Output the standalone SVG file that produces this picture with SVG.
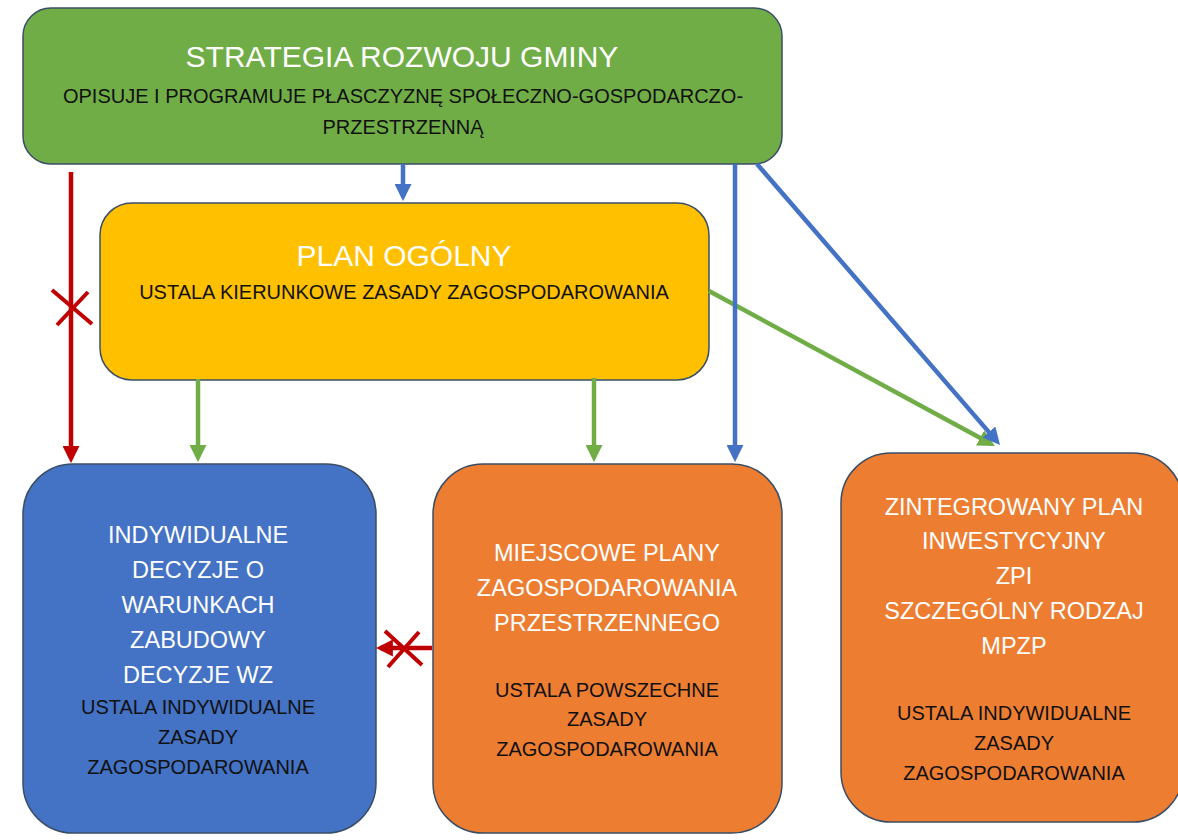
<svg xmlns="http://www.w3.org/2000/svg" width="1178" height="840" viewBox="0 0 1178 840">
<style>
.box{stroke:#3A4D66;stroke-width:1.5}
.t{font-family:"Liberation Sans",Arial,sans-serif;text-anchor:middle}
.w{fill:#FFFFFF}
.k{fill:#111111}
.c{fill:none;stroke-width:4.5}
.g{stroke:#70AD47}
.r{stroke:#C00000}
.b{stroke:#4472C4}
.x{stroke:#C00000;stroke-width:4;fill:none}
</style>
<defs>
<marker id="ag" viewBox="0 0 10 10" refX="7" refY="5" markerWidth="17" markerHeight="17" markerUnits="userSpaceOnUse" orient="auto"><path d="M0,0 L10,5 L0,10 Z" fill="#70AD47"/></marker>
<marker id="ar" viewBox="0 0 10 10" refX="7" refY="5" markerWidth="17" markerHeight="17" markerUnits="userSpaceOnUse" orient="auto"><path d="M0,0 L10,5 L0,10 Z" fill="#C00000"/></marker>
<marker id="ab" viewBox="0 0 10 10" refX="7" refY="5" markerWidth="17" markerHeight="17" markerUnits="userSpaceOnUse" orient="auto"><path d="M0,0 L10,5 L0,10 Z" fill="#4472C4"/></marker>
</defs>
<rect width="1178" height="840" fill="#FFFFFF"/>

<g id="strategia">
<rect class="box" x="23" y="8" width="759" height="156" rx="28" fill="#70AD47"/>
<text class="t w" x="402" y="67" font-size="30">STRATEGIA ROZWOJU GMINY</text>
<text class="t k" x="403" y="103" font-size="20">OPISUJE I PROGRAMUJE PŁASCZYZNĘ SPOŁECZNO-GOSPODARCZO-</text>
<text class="t k" x="403" y="134" font-size="20">PRZESTRZENNĄ</text>
</g>

<g id="plan-ogolny">
<rect class="box" x="100" y="203" width="609" height="177" rx="32" fill="#FFC000"/>
<text class="t w" x="404" y="266" font-size="30">PLAN OGÓLNY</text>
<text class="t k" x="404" y="299" font-size="20">USTALA KIERUNKOWE ZASADY ZAGOSPODAROWANIA</text>
</g>

<g id="decyzje-wz">
<rect class="box" x="23" y="464" width="353" height="369" rx="50" fill="#4472C4"/>
<g class="t w" font-size="23.5">
<text x="198" y="543">INDYWIDUALNE</text>
<text x="198" y="578">DECYZJE O</text>
<text x="198" y="613">WARUNKACH</text>
<text x="198" y="648">ZABUDOWY</text>
<text x="198" y="683">DECYZJE WZ</text>
</g>
<g class="t k" font-size="20">
<text x="198" y="714">USTALA INDYWIDUALNE</text>
<text x="198" y="744">ZASADY</text>
<text x="198" y="774">ZAGOSPODAROWANIA</text>
</g>
</g>

<g id="mpzp">
<rect class="box" x="433" y="464" width="349" height="369" rx="50" fill="#ED7D31"/>
<g class="t w" font-size="23.5">
<text x="607" y="561">MIEJSCOWE PLANY</text>
<text x="607" y="596">ZAGOSPODAROWANIA</text>
<text x="607" y="631">PRZESTRZENNEGO</text>
</g>
<g class="t k" font-size="20">
<text x="607" y="697">USTALA POWSZECHNE</text>
<text x="607" y="726">ZASADY</text>
<text x="607" y="756">ZAGOSPODAROWANIA</text>
</g>
</g>

<g id="zpi">
<rect class="box" x="841" y="453" width="342" height="369" rx="50" fill="#ED7D31"/>
<g class="t w" font-size="23.5">
<text x="1014" y="515">ZINTEGROWANY PLAN</text>
<text x="1014" y="549">INWESTYCYJNY</text>
<text x="1014" y="584">ZPI</text>
<text x="1014" y="619">SZCZEGÓLNY RODZAJ</text>
<text x="1014" y="654">MPZP</text>
</g>
<g class="t k" font-size="20">
<text x="1014" y="720">USTALA INDYWIDUALNE</text>
<text x="1014" y="750">ZASADY</text>
<text x="1014" y="780">ZAGOSPODAROWANIA</text>
</g>
</g>

<g id="connectors">
<line class="c g" x1="198" y1="379" x2="198" y2="457" marker-end="url(#ag)"/>
<line class="c g" x1="594" y1="378" x2="594" y2="457" marker-end="url(#ag)"/>
<line class="c g" x1="709" y1="291" x2="990.5" y2="443.6" marker-end="url(#ag)"/>
<line class="c r" x1="71" y1="172" x2="71" y2="458" marker-end="url(#ar)"/>
<path class="x" d="M52,290 L92,324 M88,292 L57,325"/>
<line class="c r" x1="432" y1="648" x2="381" y2="648" marker-end="url(#ar)"/>
<path class="x" d="M385,631 L422,665 M419,632 L388,667"/>
<line class="c b" x1="403" y1="164" x2="403" y2="196" marker-end="url(#ab)"/>
<line class="c b" x1="735" y1="164" x2="735" y2="457" marker-end="url(#ab)"/>
<line class="c b" x1="757" y1="164" x2="996.7" y2="441.1" marker-end="url(#ab)"/>
</g>
</svg>
